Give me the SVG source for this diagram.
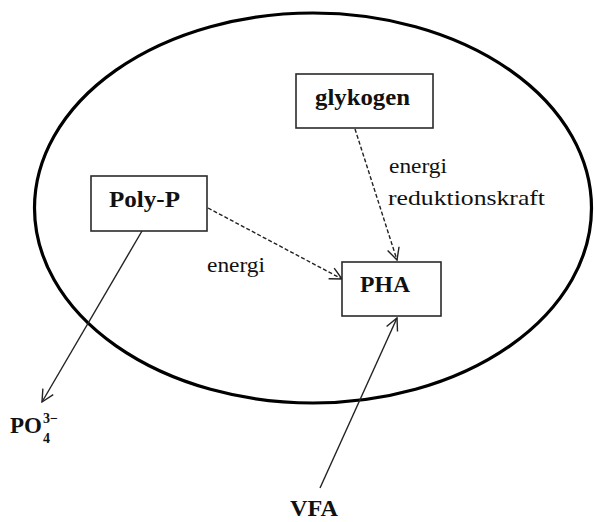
<svg xmlns="http://www.w3.org/2000/svg" width="596" height="522" viewBox="0 0 596 522">
  <style>
    .cell { fill: none; stroke: #000; stroke-width: 3.2; }
    .box { fill: #fff; stroke: #2a2a2a; stroke-width: 1.6; }
    .lbl { font-family: "Liberation Serif", "Times New Roman", Times, serif; font-weight: bold; font-size: 23px; fill: #111; }
    .note { font-family: "Liberation Serif", "Times New Roman", Times, serif; font-size: 21px; fill: #111; }
    .flow { fill: none; stroke: #222; stroke-width: 1.4; }
    .dash { stroke-dasharray: 4 2.2; }
    .ion { font-size: 14px; }
  </style>
  <defs>
    <marker id="open" viewBox="0 0 14 14" refX="13" refY="7" markerWidth="14" markerHeight="14" markerUnits="userSpaceOnUse" orient="auto">
      <path d="M1,1 L13,7 L1,13" fill="none" stroke="#222" stroke-width="1.4"/>
    </marker>
  </defs>

  <!-- cell boundary -->
  <ellipse class="cell" cx="313" cy="208" rx="278.5" ry="195"/>

  <!-- connectors -->
  <g id="connectors">
    <line class="flow dash" x1="355" y1="129" x2="397" y2="260" marker-end="url(#open)"/>
    <line class="flow dash" x1="208" y1="208" x2="342" y2="279" marker-end="url(#open)"/>
    <line class="flow" x1="142" y1="231" x2="42" y2="402" marker-end="url(#open)"/>
    <line class="flow" x1="320" y1="488" x2="397" y2="318" marker-end="url(#open)"/>
    <text class="note" x="389" y="173" textLength="58" lengthAdjust="spacingAndGlyphs">energi</text>
    <text class="note" x="388" y="205" textLength="157" lengthAdjust="spacingAndGlyphs">reduktionskraft</text>
    <text class="note" x="207" y="272" textLength="58" lengthAdjust="spacingAndGlyphs">energi</text>
  </g>

  <g id="glykogen">
    <rect class="box" x="296" y="74" width="137" height="54"/>
    <text class="lbl" x="315" y="105" textLength="95" lengthAdjust="spacingAndGlyphs">glykogen</text>
  </g>

  <g id="poly-p">
    <rect class="box" x="91" y="176" width="116" height="55"/>
    <text class="lbl" x="109" y="207" textLength="71" lengthAdjust="spacingAndGlyphs">Poly-P</text>
  </g>

  <g id="pha">
    <rect class="box" x="342" y="262" width="99" height="54"/>
    <text class="lbl" x="360" y="292" textLength="50" lengthAdjust="spacingAndGlyphs">PHA</text>
  </g>

  <g id="vfa">
    <text class="lbl" x="290" y="516" textLength="48" lengthAdjust="spacingAndGlyphs">VFA</text>
  </g>

  <!-- phosphate ion: charge stacked over the subscript -->
  <g id="po4">
    <text class="lbl" x="10" y="433" font-size="18">PO</text>
    <text class="lbl ion" x="43" y="423">3−</text>
    <text class="lbl ion" x="43" y="443">4</text>
  </g>
</svg>
